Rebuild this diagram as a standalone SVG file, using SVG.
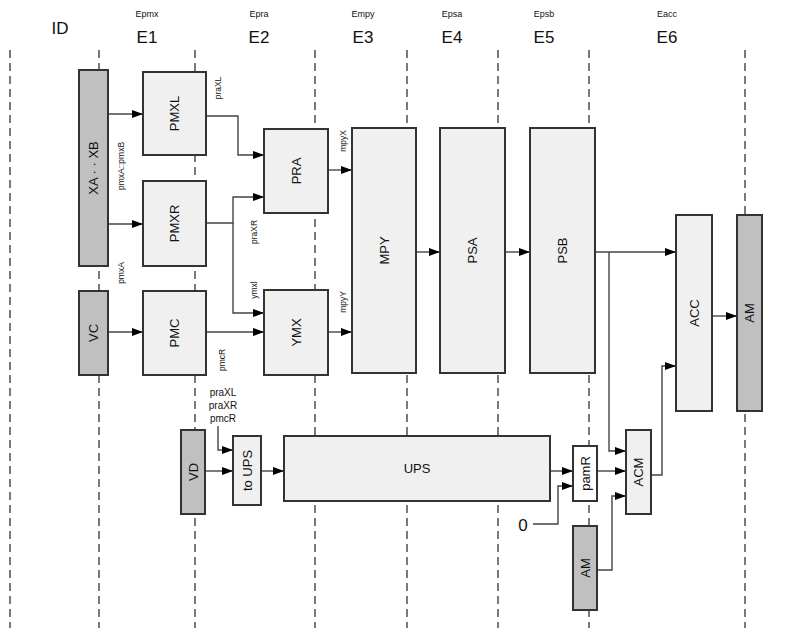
<svg xmlns="http://www.w3.org/2000/svg" width="787" height="641" viewBox="0 0 787 641">
<defs>
<style>
.bg{fill:#ffffff}
.lane{stroke:#222;stroke-width:1.2;stroke-dasharray:8,5;fill:none}
.lt{fill:#f0f0f0;stroke:#333;stroke-width:2}
.dk{fill:#c0c0c0;stroke:#333;stroke-width:2}
.wh{fill:#ffffff;stroke:#333;stroke-width:2}
.nt{font-family:"Liberation Sans",Arial,sans-serif;font-size:13px;fill:#111;text-anchor:middle;dominant-baseline:central}
.sm{font-family:"Liberation Sans",Arial,sans-serif;font-size:8.5px;fill:#111;text-anchor:middle;dominant-baseline:central}
.lb{font-family:"Liberation Sans",Arial,sans-serif;font-size:10px;fill:#111;text-anchor:middle;dominant-baseline:central}
.hd{font-family:"Liberation Sans",Arial,sans-serif;font-size:17px;fill:#111;text-anchor:middle;dominant-baseline:central}
.hs{font-family:"Liberation Sans",Arial,sans-serif;font-size:9px;fill:#111;text-anchor:middle;dominant-baseline:central}
.cn{stroke:#444;stroke-width:1.4;fill:none}
.ar{marker-end:url(#ah)}
</style>
<marker id="ah" markerWidth="11" markerHeight="8" refX="11" refY="4" orient="auto" markerUnits="userSpaceOnUse">
<path d="M0,0 L11,4 L0,8 z" fill="#000"/>
</marker>
</defs>
<rect class="bg" x="0" y="0" width="787" height="641"/>

<g id="header">
<text class="hd" x="60" y="28">ID</text>
<text class="hs" x="147" y="14">Epmx</text><text class="hd" x="147" y="37">E1</text>
<text class="hs" x="259" y="14">Epra</text><text class="hd" x="259" y="37">E2</text>
<text class="hs" x="363" y="14">Empy</text><text class="hd" x="363" y="37">E3</text>
<text class="hs" x="452" y="14">Epsa</text><text class="hd" x="452" y="37">E4</text>
<text class="hs" x="544" y="14">Epsb</text><text class="hd" x="544" y="37">E5</text>
<text class="hs" x="667" y="14">Eacc</text><text class="hd" x="667" y="37">E6</text>
</g>

<g id="lanes">
<line class="lane" x1="10" y1="50" x2="10" y2="628"/>
<line class="lane" x1="99" y1="50" x2="99" y2="628"/>
<line class="lane" x1="195" y1="50" x2="195" y2="628"/>
<line class="lane" x1="315" y1="50" x2="315" y2="628"/>
<line class="lane" x1="407" y1="50" x2="407" y2="628"/>
<line class="lane" x1="498" y1="50" x2="498" y2="628"/>
<line class="lane" x1="589" y1="50" x2="589" y2="628"/>
<line class="lane" x1="745" y1="50" x2="745" y2="628"/>
</g>

<g id="connectors">
<path class="cn ar" d="M108,114 H143"/>
<path class="cn ar" d="M108,224 H143"/>
<path class="cn ar" d="M206,116 H238 V155 H264"/>
<path class="cn ar" d="M206,223 H233 V197 H264"/>
<path class="cn ar" d="M233,223 V313 H264"/>
<path class="cn ar" d="M108,332 H143"/>
<path class="cn ar" d="M206,332 H264"/>
<path class="cn ar" d="M328,170 H352"/>
<path class="cn ar" d="M328,332 H352"/>
<path class="cn ar" d="M416,252 H440"/>
<path class="cn ar" d="M505,252 H530"/>
<path class="cn ar" d="M595,252 H676"/>
<path class="cn ar" d="M609,252 V451 H626"/>
<path class="cn ar" d="M712,316 H737"/>
<path class="cn ar" d="M651,475 H662 V366 H676"/>
<path class="cn ar" d="M205,471 H233"/>
<path class="cn ar" d="M218,426 V450 H233"/>
<path class="cn ar" d="M261,471 H284"/>
<path class="cn ar" d="M550,471 H573"/>
<path class="cn ar" d="M597,471 H626"/>
<path class="cn ar" d="M533,524 H558 V486 H573"/>
<path class="cn ar" d="M597,570 H612 V496 H626"/>
</g>

<g id="labels">
<text class="sm" transform="translate(218,88) rotate(-90)">praXL</text>
<text class="sm" transform="translate(121,166) rotate(-90)">pmxA::pmxB</text>
<text class="sm" transform="translate(121,273) rotate(-90)">pmxA</text>
<text class="sm" transform="translate(254,232) rotate(-90)">praXR</text>
<text class="sm" transform="translate(343,141) rotate(-90)">mpyX</text>
<text class="sm" transform="translate(254,290) rotate(-90)">ymxl</text>
<text class="sm" transform="translate(343,302) rotate(-90)">mpyY</text>
<text class="sm" transform="translate(222,360) rotate(-90)">pmcR</text>
<text class="lb" x="223" y="392">praXL</text>
<text class="lb" x="223" y="405">praXR</text>
<text class="lb" x="223" y="418">pmcR</text>
<text class="hd" x="523" y="525">0</text>
</g>

<g id="XA"><rect class="dk" x="79" y="70" width="29" height="196"/><text class="nt" transform="translate(93.5,168) rotate(-90)">XA · · XB</text></g>
<g id="PMXL"><rect class="lt" x="143" y="72" width="63" height="83"/><text class="nt" transform="translate(174.5,113.5) rotate(-90)">PMXL</text></g>
<g id="PMXR"><rect class="lt" x="143" y="181" width="63" height="85"/><text class="nt" transform="translate(174.5,223.5) rotate(-90)">PMXR</text></g>
<g id="VC"><rect class="dk" x="79" y="291" width="29" height="84"/><text class="nt" transform="translate(93.5,333) rotate(-90)">VC</text></g>
<g id="PMC"><rect class="lt" x="143" y="291" width="63" height="84"/><text class="nt" transform="translate(174.5,333) rotate(-90)">PMC</text></g>
<g id="PRA"><rect class="lt" x="264" y="129" width="64" height="84"/><text class="nt" transform="translate(296,171) rotate(-90)">PRA</text></g>
<g id="YMX"><rect class="lt" x="264" y="290" width="64" height="85"/><text class="nt" transform="translate(296,332.5) rotate(-90)">YMX</text></g>
<g id="MPY"><rect class="lt" x="352" y="128" width="64" height="245"/><text class="nt" transform="translate(384,250.5) rotate(-90)">MPY</text></g>
<g id="PSA"><rect class="lt" x="440" y="128" width="65" height="245"/><text class="nt" transform="translate(472.5,250.5) rotate(-90)">PSA</text></g>
<g id="PSB"><rect class="lt" x="530" y="128" width="65" height="245"/><text class="nt" transform="translate(562.5,250.5) rotate(-90)">PSB</text></g>
<g id="ACC"><rect class="lt" x="676" y="215" width="36" height="196"/><text class="nt" transform="translate(694,313) rotate(-90)">ACC</text></g>
<g id="AM1"><rect class="dk" x="737" y="215" width="25" height="196"/><text class="nt" transform="translate(749.5,313) rotate(-90)">AM</text></g>
<g id="VD"><rect class="dk" x="181" y="430" width="24" height="84"/><text class="nt" transform="translate(193,472) rotate(-90)">VD</text></g>
<g id="toUPS"><rect class="lt" x="233" y="436" width="28" height="69"/><text class="nt" transform="translate(247,470.5) rotate(-90)">to UPS</text></g>
<g id="UPS"><rect class="lt" x="284" y="436" width="266" height="65"/><text class="nt" x="417" y="468.5">UPS</text></g>
<g id="pamR"><rect class="wh" x="573" y="446" width="24" height="55"/><text class="nt" transform="translate(585,473.5) rotate(-90)">pamR</text></g>
<g id="ACM"><rect class="lt" x="626" y="430" width="25" height="84"/><text class="nt" transform="translate(638.5,472) rotate(-90)">ACM</text></g>
<g id="AM2"><rect class="dk" x="573" y="526" width="24" height="84"/><text class="nt" transform="translate(585,568) rotate(-90)">AM</text></g>
</svg>
